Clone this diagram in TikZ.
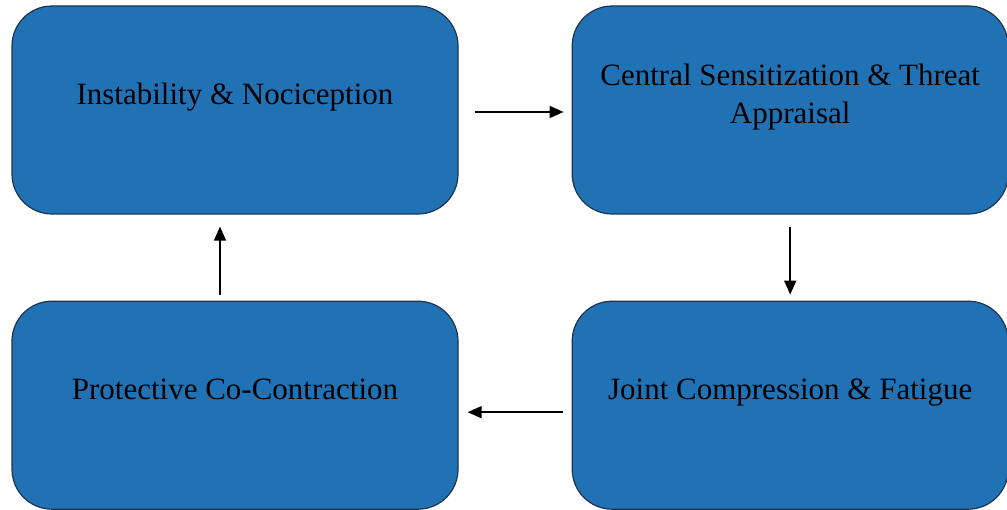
\documentclass[tikz,border=0pt]{standalone}
\usepackage{fontspec}
\setmainfont{Liberation Serif}
\usetikzlibrary{positioning,arrows.meta}
\definecolor{boxblue}{RGB}{33,114,181}
\definecolor{boxedge}{RGB}{28,52,80}

\begin{document}
\begin{tikzpicture}[
    x=1pt, y=1pt,
    node distance = 86pt and 113pt,
    block/.style={rectangle, draw=boxedge, line width=1.2pt, fill=boxblue, rounded corners=40pt, minimum width=446pt, minimum height=208pt},
    boxtext/.style={font=\fontsize{31}{38}\selectfont, align=center, text=black, inner sep=0pt},
    line/.style={draw, line width=1.5pt, -{Triangle[length=14pt,width=12pt]}}
    ]
    \useasboundingbox (0,0) rectangle (1007,510);

    \node [block] (instability) at (235,400) {};
    \node [block, right=113pt of instability, minimum width=436pt] (sensitization) {};
    \node [block, below=86pt of sensitization, minimum width=436pt] (compression) {};
    \node [block, below=86pt of instability] (cocontraction) {};

    \node [boxtext, anchor=base] (instabilityText) at ([yshift=5pt]instability.center) {Instability \& Nociception};
    \node [boxtext] (sensitizationText) at ([yshift=13pt]sensitization.center) {Central Sensitization \& Threat\\Appraisal};
    \node [boxtext, anchor=base] (compressionText) at ([yshift=6pt]compression.center) {Joint Compression \& Fatigue};
    \node [boxtext, anchor=base] (cocontractionText) at ([yshift=6pt]cocontraction.center) {Protective Co-Contraction};

    \path [line, shorten <=16pt, shorten >=8pt] ([yshift=-2pt]instability.east) -- ([yshift=-2pt]sensitization.west);
    \path [line, shorten <=12pt, shorten >=6pt] (sensitization) -- (compression);
    \path [line, shorten <=9pt, shorten >=9pt] ([yshift=-7pt]compression.west) -- ([yshift=-7pt]cocontraction.east);
    \path [line, shorten <=6pt, shorten >=12pt] ([xshift=-15pt]cocontraction.north) -- ([xshift=-15pt]instability.south);
  \end{tikzpicture}
\end{document}
